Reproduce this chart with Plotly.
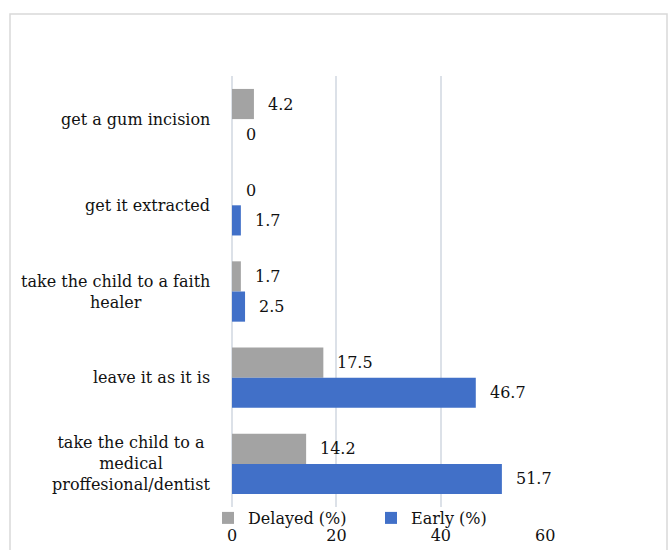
import plotly.graph_objects as go

# Categories listed top to bottom
categories = [
    "get a gum incision",
    "get it extracted",
    "take the child to a faith<br>healer",
    "leave it as it is",
    "take the child to a<br>medical<br>proffesional/dentist",
]
delayed = [4.2, 0, 1.7, 17.5, 14.2]
early = [0, 1.7, 2.5, 46.7, 51.7]
x_ticks = [0, 20, 40, 60]

W, H = 670, 550
ML, MR, MT, MB = 232, 124, 76, 43
PW = W - ML - MR
PH = H - MT - MB

FONT = "DejaVu Serif, Liberation Serif, serif"
FS = 16
GRAY = "#A3A3A3"
BLUE = "#4170C8"

fig = go.Figure()
fig.add_trace(go.Bar(y=categories, x=delayed, orientation="h", name="Delayed (%)",
                     marker=dict(color=GRAY, line_width=0)))
fig.add_trace(go.Bar(y=categories, x=early, orientation="h", name="Early (%)",
                     marker=dict(color=BLUE, line_width=0)))

annotations = []
# value labels to the right of each bar
for vals, yshift in [(delayed, 15), (early, -15)]:
    for cat, v in zip(categories, vals):
        annotations.append(dict(x=v, y=cat, xref="x", yref="y", text=f"{v:g}",
                                showarrow=False, xanchor="left", xshift=12, yshift=yshift,
                                font=dict(family=FONT, size=FS, color="#111")))
# category labels, lines centred within a right-aligned block
for cat in categories:
    annotations.append(dict(x=0, y=cat, xref="paper", yref="y", text=cat,
                            showarrow=False, xanchor="right", xshift=-20, align="center",
                            font=dict(family=FONT, size=FS, color="#111")))

def px_to_paper_x(px):
    return (px - ML) / PW

def px_to_paper_y(py):
    return (H - MB - py) / PH

fig.update_layout(
    width=W, height=H,
    margin=dict(l=ML, r=MR, t=MT, b=MB, autoexpand=False),
    paper_bgcolor="white", plot_bgcolor="white",
    barmode="group", bargap=0.3, bargroupgap=0,
    font=dict(family=FONT, size=FS, color="#111"),
    xaxis=dict(range=[0, 60.15], tickvals=x_ticks, showgrid=True, gridcolor="#DCE1E8",
               gridwidth=1.5, zeroline=True, zerolinecolor="#DCE1E8", zerolinewidth=1.5,
               showline=False, ticks="", automargin=False,
               ticklabelstandoff=17, tickfont=dict(family=FONT, size=FS)),
    yaxis=dict(categoryorder="array", categoryarray=categories, autorange="reversed",
               showticklabels=False, showgrid=False, zeroline=False, ticks="",
               automargin=False),
    legend=dict(orientation="h", x=px_to_paper_x(208), y=px_to_paper_y(501),
                xanchor="left", yanchor="top", bgcolor="rgba(0,0,0,0)",
                font=dict(family=FONT, size=FS), itemwidth=30, traceorder="normal",
                entrywidth=118, entrywidthmode="pixels"),
    annotations=annotations,
    shapes=[dict(type="rect", xref="paper", yref="paper",
                 x0=px_to_paper_x(10), x1=px_to_paper_x(667),
                 y0=px_to_paper_y(560), y1=px_to_paper_y(14),
                 line=dict(color="#D9D9D9", width=1.5), fillcolor="rgba(0,0,0,0)")],
)

fig.write_html("out.html")
